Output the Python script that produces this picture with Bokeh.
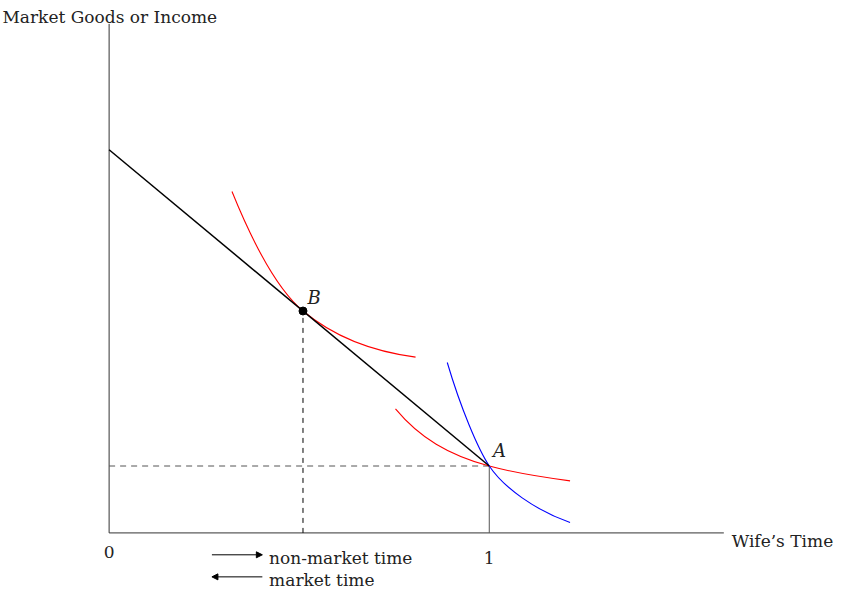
from bokeh.plotting import figure
from bokeh.models import Arrow, NormalHead, ColumnDataSource, Range1d
from bokeh.core.properties import value
from bokeh.embed import file_html
from bokeh.resources import INLINE

# ---- data (in units where total time = 1) ----
axis_y_top = 1.339
axis_x_end = 1.617

budget_x = [0.0, 1.0]
budget_y = [1.008, 0.176]

point_B = (0.51, 0.5837)
point_A = (1.0, 0.176)

# indifference curves as cubic Bezier segments
red_upper_x0 = [0.3232, 0.51]
red_upper_y0 = [0.8980, 0.5837]
red_upper_cx0 = [0.3895, 0.5875]
red_upper_cy0 = [0.7347, 0.5192]
red_upper_cx1 = [0.4513, 0.6819]
red_upper_cy1 = [0.6328, 0.4786]
red_upper_x1 = [0.51, 0.8061]
red_upper_y1 = [0.5837, 0.4625]

red_lower_x0 = [0.7533, 1.0]
red_lower_y0 = [0.3265, 0.176]
red_lower_cx0 = [0.8171, 1.0522]
red_lower_cy0 = [0.2500, 0.1619]
red_lower_cx1 = [0.8929, 1.1227]
red_lower_cy1 = [0.2049, 0.1487]
red_lower_x1 = [1.0, 1.2125]
red_lower_y1 = [0.176, 0.1370]

blue_x0 = [0.8895, 1.0]
blue_y0 = [0.4482, 0.176]
blue_cx0 = [0.9245, 1.0383]
blue_cy0 = [0.3296, 0.1186]
blue_cx1 = [0.9702, 1.1217]
blue_cy1 = [0.2208, 0.0592]
blue_x1 = [1.0, 1.2125]
blue_y1 = [0.176, 0.0273]

tick_labels = ["0", "1"]
tick_pos = [0.0, 1.0]

W, H = 849, 594
y0, y1 = -0.162, 1.4005
x0 = -0.2857
x1 = x0 + (y1 - y0) * W / H

p = figure(width=W, height=H, output_backend="svg", toolbar_location=None,
           x_range=Range1d(x0, x1), y_range=Range1d(y0, y1),
           min_border=0, x_axis_location=None, y_axis_location=None)
p.grid.visible = False
p.outline_line_color = None
p.background_fill_color = "white"

serif = value("DejaVu Serif")
fs = "17px"

# axes
p.line([0, 0], [0, axis_y_top], line_color="#333333", line_width=1)
p.line([0, axis_x_end], [0, 0], line_color="#333333", line_width=1)

# dashed guides
p.line([point_B[0], point_B[0]], [0, point_B[1]], line_color="black",
       line_width=1, line_dash="5 5")
p.line([0, point_A[0]], [point_A[1], point_A[1]], line_color="#555555",
       line_width=1, line_dash="6 5")
p.line([point_A[0], point_A[0]], [0, point_A[1]], line_color="#555555",
       line_width=1)

# indifference curves
def bez(xs0, ys0, cxs0, cys0, cxs1, cys1, xs1, ys1, color):
    src = ColumnDataSource(dict(x0=xs0, y0=ys0, cx0=cxs0, cy0=cys0,
                                cx1=cxs1, cy1=cys1, x1=xs1, y1=ys1))
    p.bezier(x0="x0", y0="y0", cx0="cx0", cy0="cy0", cx1="cx1", cy1="cy1",
             x1="x1", y1="y1", source=src, line_color=color, line_width=1.1)

bez(red_upper_x0, red_upper_y0, red_upper_cx0, red_upper_cy0,
    red_upper_cx1, red_upper_cy1, red_upper_x1, red_upper_y1, "red")
bez(red_lower_x0, red_lower_y0, red_lower_cx0, red_lower_cy0,
    red_lower_cx1, red_lower_cy1, red_lower_x1, red_lower_y1, "red")
bez(blue_x0, blue_y0, blue_cx0, blue_cy0, blue_cx1, blue_cy1,
    blue_x1, blue_y1, "blue")

# budget line
p.line(budget_x, budget_y, line_color="black", line_width=1.5)

# point B
p.scatter([point_B[0]], [point_B[1]], size=8, color="black")

# labels
p.text([0.522], [0.620], text=["B"], text_font=serif, text_font_size="18px",
       text_font_style="italic", text_baseline="alphabetic", text_align="left",
       text_color="#222222")
p.text([1.010], [0.216], text=["A"], text_font=serif, text_font_size="18px",
       text_font_style="italic", text_baseline="alphabetic", text_align="left",
       text_color="#222222")

p.text([-0.2806], [1.3571], text=["Market Goods or Income"], text_font=serif,
       text_font_size=fs, text_baseline="alphabetic", text_align="left",
       text_color="#222222")
p.text([1.6378], [-0.0204], text=["Wife\u2019s Time"], text_font=serif,
       text_font_size=fs, text_baseline="alphabetic", text_align="left",
       text_color="#222222")

p.text(tick_pos, [-0.051, -0.0663], text=tick_labels, text_font=serif,
       text_font_size=fs, text_baseline="alphabetic", text_align="center",
       text_color="#222222")

# time arrows
arrow_left, arrow_right = 0.2704, 0.4031
row1_y, row2_y = -0.0576, -0.1156
p.add_layout(Arrow(end=NormalHead(size=6, fill_color="black", line_color="black"),
                   x_start=arrow_left, y_start=row1_y, x_end=arrow_right, y_end=row1_y,
                   line_color="black", line_width=1))
p.add_layout(Arrow(end=NormalHead(size=6, fill_color="black", line_color="black"),
                   x_start=arrow_right, y_start=row2_y, x_end=arrow_left, y_end=row2_y,
                   line_color="black", line_width=1))
p.text([0.4209, 0.4209], [-0.0663, -0.1237], text=["non-market time", "market time"],
       text_font=serif, text_font_size=fs, text_baseline="alphabetic", text_align="left",
       text_color="#222222")

open("out.html", "w").write(file_html(p, INLINE))
